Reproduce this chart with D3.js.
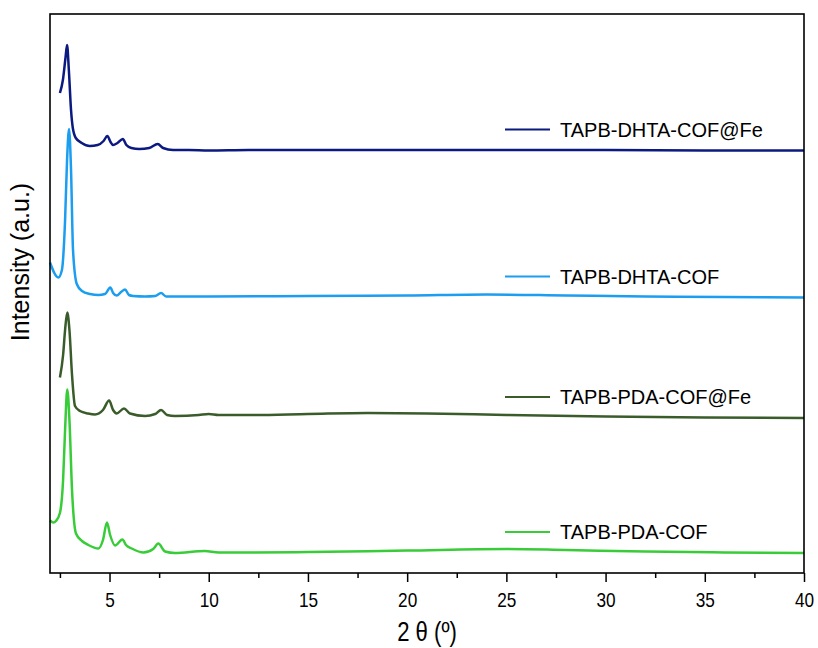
<!DOCTYPE html>
<html>
<head>
<meta charset="utf-8">
<script src="https://cdn.jsdelivr.net/npm/d3@7"></script>
<style>
  body { margin: 0; background: #fff; }
  svg { display: block; }
  text { font-family: "Liberation Sans", Arial, sans-serif; }
</style>
</head>
<body>
<svg id="chart" width="818" height="648"></svg>
<script>
// series names and colours (legend order, top to bottom)
const names = ['TAPB-DHTA-COF@Fe', 'TAPB-DHTA-COF', 'TAPB-PDA-COF@Fe', 'TAPB-PDA-COF'];
const colors = ['#0b1a80', '#1b9df0', '#3a5c2a', '#38cc38'];

// stacked patterns, [2theta, intensity a.u.]
const dhtaFe = [
  [2.5, 960], [2.65, 986], [2.78, 1030], [2.86, 1056], [2.95, 1006], [3.06, 926], [3.15, 890],
  [3.3, 870], [3.6, 860], [4.0, 854], [4.4, 856], [4.7, 864], [4.89, 874], [5.05, 862], [5.18, 856],
  [5.4, 860], [5.67, 868], [5.85, 856], [6.1, 850], [6.5, 848], [7.0, 850], [7.43, 858], [7.7, 850],
  [8.2, 846], [9, 846], [10, 845], [12, 846], [15, 846], [17, 846], [20, 846], [25, 846], [30, 846],
  [35, 845], [40, 845]
];
const dhta = [
  [2.0, 621], [2.42, 591], [2.6, 606], [2.76, 706], [2.86, 826], [2.96, 888], [3.06, 806], [3.16, 646],
  [3.35, 578], [3.61, 564], [4.02, 558], [4.44, 556], [4.77, 558], [5.04, 571], [5.18, 560], [5.36, 555],
  [5.58, 562], [5.78, 567], [5.98, 556], [6.19, 554], [6.79, 553], [7.3, 554], [7.6, 560], [7.85, 553],
  [10, 553], [15, 554], [20, 555], [24, 557], [28, 555], [32, 553], [36, 552], [40, 551]
];
const pdaFe = [
  [2.5, 391], [2.66, 436], [2.76, 486], [2.87, 521], [2.98, 486], [3.11, 396], [3.26, 334], [3.51, 324],
  [3.92, 319], [4.27, 317], [4.67, 326], [4.98, 345], [5.18, 326], [5.36, 319], [5.73, 329], [6.03, 319],
  [6.79, 314], [7.3, 318], [7.6, 326], [7.9, 316], [8.3, 314], [9.5, 316], [10, 318], [10.5, 316],
  [12, 316], [15, 318], [18, 320], [21, 319], [25, 316], [30, 313], [35, 311], [40, 310]
];
const pda = [
  [2.0, 105], [2.17, 101], [2.3, 104], [2.5, 120], [2.66, 186], [2.76, 286], [2.87, 367], [2.98, 306],
  [3.11, 166], [3.31, 79], [3.61, 64], [3.93, 56], [4.44, 49], [4.67, 66], [4.87, 101], [5.03, 76],
  [5.28, 55], [5.65, 67], [5.83, 56], [6.12, 49], [6.71, 41], [7.2, 48], [7.46, 59], [7.8, 43],
  [8.3, 40], [9.8, 44], [10.5, 41], [12, 41], [15, 42], [20, 45], [25, 48], [28, 46], [32, 43],
  [36, 41], [40, 40]
];
const series = [dhtaFe, dhta, pdaFe, pda];

const xMajor = [5, 10, 15, 20, 25, 30, 35, 40];
const xMinor = [2.5, 7.5, 12.5, 17.5, 22.5, 27.5, 32.5, 37.5];

const svg = d3.select('#chart');
const m = { left: 50, top: 14, right: 804, bottom: 573 };
const narrow = 'scale(0.82,1)';   // fake Arial Narrow look for the x axis

const x = d3.scaleLinear().domain([2, 40]).range([m.left, m.right]);
const y = d3.scaleLinear().domain([0, 1118]).range([m.bottom, m.top]);

const line = d3.line().x(d => x(d[0])).y(d => y(d[1])).curve(d3.curveMonotoneX);

svg.append('g').selectAll('path').data(series).enter().append('path')
  .attr('d', line)
  .attr('fill', 'none')
  .attr('stroke', (d, i) => colors[i])
  .attr('stroke-width', 2.5)
  .attr('stroke-linejoin', 'round');

// frame
svg.append('rect')
  .attr('x', m.left).attr('y', m.top)
  .attr('width', m.right - m.left).attr('height', m.bottom - m.top)
  .attr('fill', 'none').attr('stroke', '#000').attr('stroke-width', 1.6);

// minor ticks
svg.append('g')
  .attr('transform', `translate(0,${m.bottom})`)
  .call(d3.axisBottom(x).tickValues(xMinor).tickSize(5).tickFormat(''))
  .call(g => g.select('.domain').remove())
  .call(g => g.selectAll('line').attr('stroke-width', 1.5));

// major ticks
svg.append('g')
  .attr('transform', `translate(0,${m.bottom})`)
  .call(d3.axisBottom(x).tickValues(xMajor).tickSize(9).tickPadding(10).tickFormat(d3.format('d')))
  .call(g => g.select('.domain').remove())
  .call(g => g.selectAll('line').attr('stroke-width', 1.5))
  .call(g => g.selectAll('text')
    .attr('font-size', 21).attr('fill', '#000')
    .attr('font-family', '"Liberation Sans", Arial, sans-serif')
    .attr('transform', narrow));

svg.append('g')
  .attr('transform', `translate(${(m.left + m.right) / 2},641)`)
  .append('text')
  .attr('transform', narrow)
  .attr('text-anchor', 'middle')
  .attr('font-size', 27)
  .text('2 θ (º)');

svg.append('text')
  .attr('transform', `translate(29,262) rotate(-90)`)
  .attr('text-anchor', 'middle')
  .attr('font-size', 25)
  .text('Intensity (a.u.)');

// legend, each entry sits just above its pattern's tail
const legend = svg.append('g').selectAll('g').data(series).enter().append('g')
  .attr('transform', d => `translate(505,${y(d[d.length - 1][1]) - 21})`);
legend.append('line')
  .attr('x1', 0).attr('x2', 45)
  .attr('stroke', (d, i) => colors[i]).attr('stroke-width', 2.2);
legend.append('text')
  .attr('x', 55).attr('dy', '0.35em')
  .attr('font-size', 20)
  .text((d, i) => names[i]);
</script>
</body>
</html>
